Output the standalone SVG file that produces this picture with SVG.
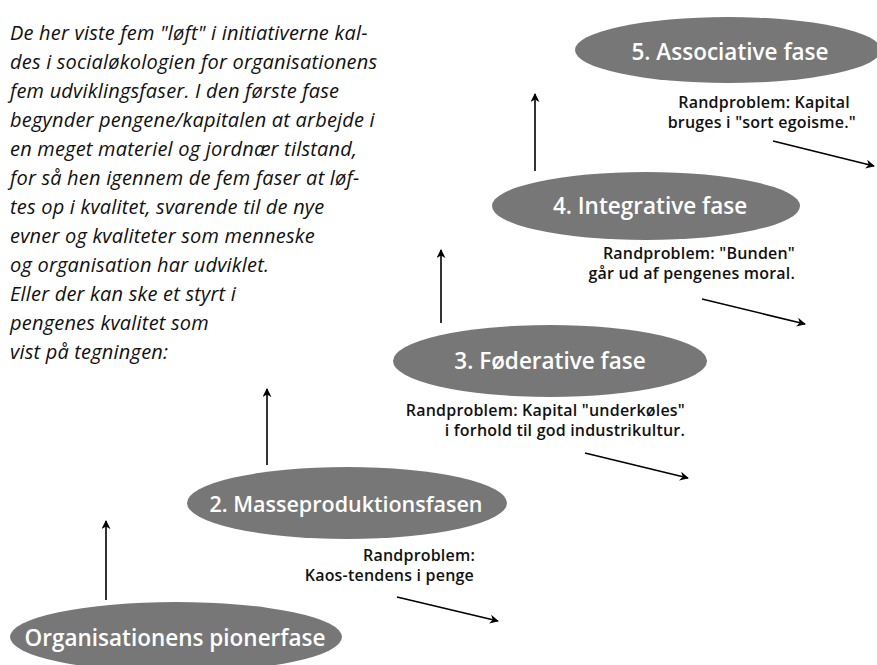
<svg xmlns="http://www.w3.org/2000/svg" width="877" height="665" viewBox="0 0 877 665">
<style>
.para{font-family:"Open Sans","Noto Sans",sans-serif;font-style:italic;font-size:20px;letter-spacing:0.2px;fill:#111}
.ph{fill:#777}
.pt{font-family:"Open Sans","Noto Sans",sans-serif;font-weight:600;font-size:22.5px;fill:#fff;text-anchor:middle}
.lb{font-family:"Open Sans","Noto Sans",sans-serif;font-weight:600;font-size:16px;letter-spacing:0.2px;fill:#111;text-anchor:end}
.ar{stroke:#000;stroke-width:1.6;fill:none;marker-end:url(#ah)}
</style>
<defs>
<marker id="ah" viewBox="0 0 10 10" refX="9" refY="5" markerWidth="9" markerHeight="9" orient="auto" markerUnits="userSpaceOnUse">
<path d="M0,0 L10,5 L0,10 L3,5 Z" fill="#000"/>
</marker>
</defs>
<g id="intro">
<text class="para" x="10" y="40">De her viste fem "løft" i initiativerne kal-</text>
<text class="para" x="10" y="69">des i socialøkologien for organisationens</text>
<text class="para" x="10" y="98">fem udviklingsfaser. I den første fase</text>
<text class="para" x="10" y="127">begynder pengene/kapitalen at arbejde i</text>
<text class="para" x="10" y="156">en meget materiel og jordnær tilstand,</text>
<text class="para" x="10" y="185">for så hen igennem de fem faser at løf-</text>
<text class="para" x="10" y="214">tes op i kvalitet, svarende til de nye</text>
<text class="para" x="10" y="243">evner og kvaliteter som menneske</text>
<text class="para" x="10" y="272">og organisation har udviklet.</text>
<text class="para" x="10" y="301">Eller der kan ske et styrt i</text>
<text class="para" x="10" y="330">pengenes kvalitet som</text>
<text class="para" x="10" y="359">vist på tegningen:</text>
</g>
<g id="connectors">
<line class="ar" x1="106" y1="600" x2="106" y2="521"/>
<line class="ar" x1="267" y1="465" x2="267" y2="389"/>
<line class="ar" x1="441" y1="323" x2="441" y2="250"/>
<line class="ar" x1="535" y1="171" x2="535" y2="94"/>
<line class="ar" x1="397" y1="597" x2="498" y2="621"/>
<line class="ar" x1="585" y1="453" x2="688" y2="478"/>
<line class="ar" x1="702" y1="299" x2="805" y2="324"/>
<line class="ar" x1="773" y1="141" x2="874" y2="166"/>
</g>
<g id="phase1">
<ellipse class="ph" cx="176" cy="637" rx="166" ry="35"/>
<text class="pt" x="175" y="646">Organisationens pionerfase</text>
</g>
<g id="phase2">
<ellipse class="ph" cx="347" cy="503" rx="160" ry="36"/>
<text class="pt" x="346" y="512" style="font-size:21.5px">2. Masseproduktionsfasen</text>
<text class="lb" x="475" y="561">Randproblem:</text>
<text class="lb" x="474" y="581">Kaos-tendens i penge</text>
</g>
<g id="phase3">
<ellipse class="ph" cx="550" cy="361" rx="157" ry="36"/>
<text class="pt" x="550" y="369">3. Føderative fase</text>
<text class="lb" x="685" y="416">Randproblem: Kapital "underkøles"</text>
<text class="lb" x="685" y="436">i forhold til god industrikultur.</text>
</g>
<g id="phase4">
<ellipse class="ph" cx="646" cy="206" rx="154" ry="34"/>
<text class="pt" x="650" y="214">4. Integrative fase</text>
<text class="lb" x="795" y="259">Randproblem: "Bunden"</text>
<text class="lb" x="795" y="279">går ud af pengenes moral.</text>
</g>
<g id="phase5">
<ellipse class="ph" cx="728" cy="50" rx="153" ry="33"/>
<text class="pt" x="730" y="60">5. Associative fase</text>
<text class="lb" x="850" y="108">Randproblem: Kapital</text>
<text class="lb" x="856" y="128">bruges i "sort egoisme."</text>
</g>
</svg>
